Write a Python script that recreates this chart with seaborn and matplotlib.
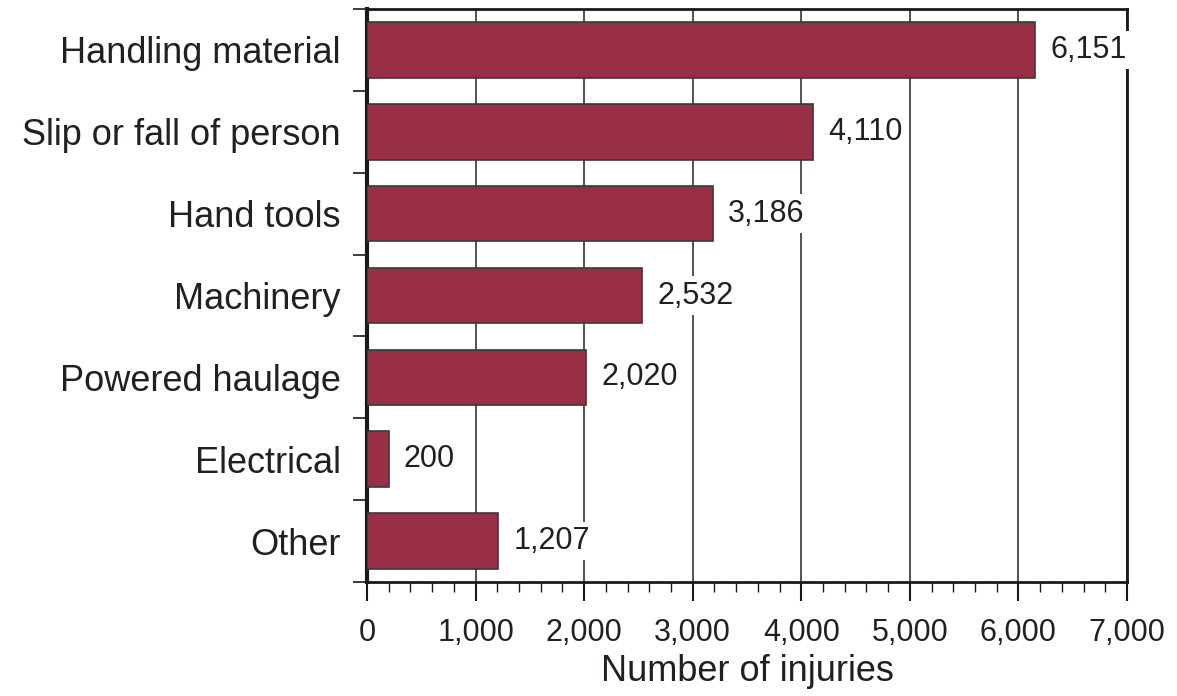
import pandas as pd
import matplotlib.pyplot as plt
import matplotlib.ticker as mticker
import seaborn as sns

# Datos
causas = ["Handling material", "Slip or fall of person", "Hand tools",
          "Machinery", "Powered haulage", "Electrical", "Other"]
lesiones = [6151, 4110, 3186, 2532, 2020, 200, 1207]
xticks = [0, 1000, 2000, 3000, 4000, 5000, 6000, 7000]

df = pd.DataFrame({"causa": causas, "lesiones": lesiones})

sns.set_style("white")
plt.rcParams["font.family"] = ["Liberation Sans", "DejaVu Sans"]
texto = "#231f20"

fig = plt.figure(figsize=(11.77, 6.96), dpi=100)
ax = fig.add_axes([367 / 1177, 1 - 582 / 696, 760 / 1177, 573 / 696])

sns.barplot(data=df, x="lesiones", y="causa", orient="h", color="#992f45",
            saturation=1, width=0.68, edgecolor="#3a3a3a", linewidth=1.2,
            zorder=3, ax=ax)

ax.set_xlim(0, 7000)
ax.set_ylim(6.5, -0.5)
ax.set_xticks(xticks)
ax.xaxis.set_major_formatter(mticker.StrMethodFormatter("{x:,.0f}"))
ax.xaxis.set_minor_locator(mticker.MultipleLocator(200))
ax.set_yticks(range(len(causas)))
ax.set_yticklabels(causas)
ax.yaxis.set_minor_locator(mticker.FixedLocator([i - 0.5 for i in range(len(causas) + 1)]))

# Lineas de rejilla verticales
ax.grid(axis="x", color="#444444", linewidth=1.3, zorder=0)
ax.set_axisbelow(True)

# Ejes
for lado in ["top", "bottom", "right"]:
    ax.spines[lado].set_visible(True)
    ax.spines[lado].set_color("#1a1a1a")
    ax.spines[lado].set_linewidth(2)
ax.spines["left"].set_color("#1a1a1a")
ax.spines["left"].set_linewidth(3)

ax.tick_params(axis="y", which="major", length=0, pad=19, labelsize=26, labelcolor=texto)
ax.tick_params(axis="y", which="minor", left=True, length=10, width=1.2, color="#1a1a1a")
ax.tick_params(axis="x", which="major", bottom=True, length=14, width=1.5,
               color="#1a1a1a", pad=12, labelsize=22, labelcolor=texto)
ax.tick_params(axis="x", which="minor", bottom=True, length=7, width=1, color="#1a1a1a")

ax.set_xlabel("Number of injuries", fontsize=26, color=texto, labelpad=4)
ax.set_ylabel("")

# Etiquetas de valores
for i, v in enumerate(lesiones):
    ax.text(v + 140, i, f"{v:,}", va="center", ha="left", fontsize=22, color=texto,
            zorder=6, clip_on=False,
            bbox=dict(facecolor="white", edgecolor="none", pad=3))

plt.savefig("out.png", dpi=100)
